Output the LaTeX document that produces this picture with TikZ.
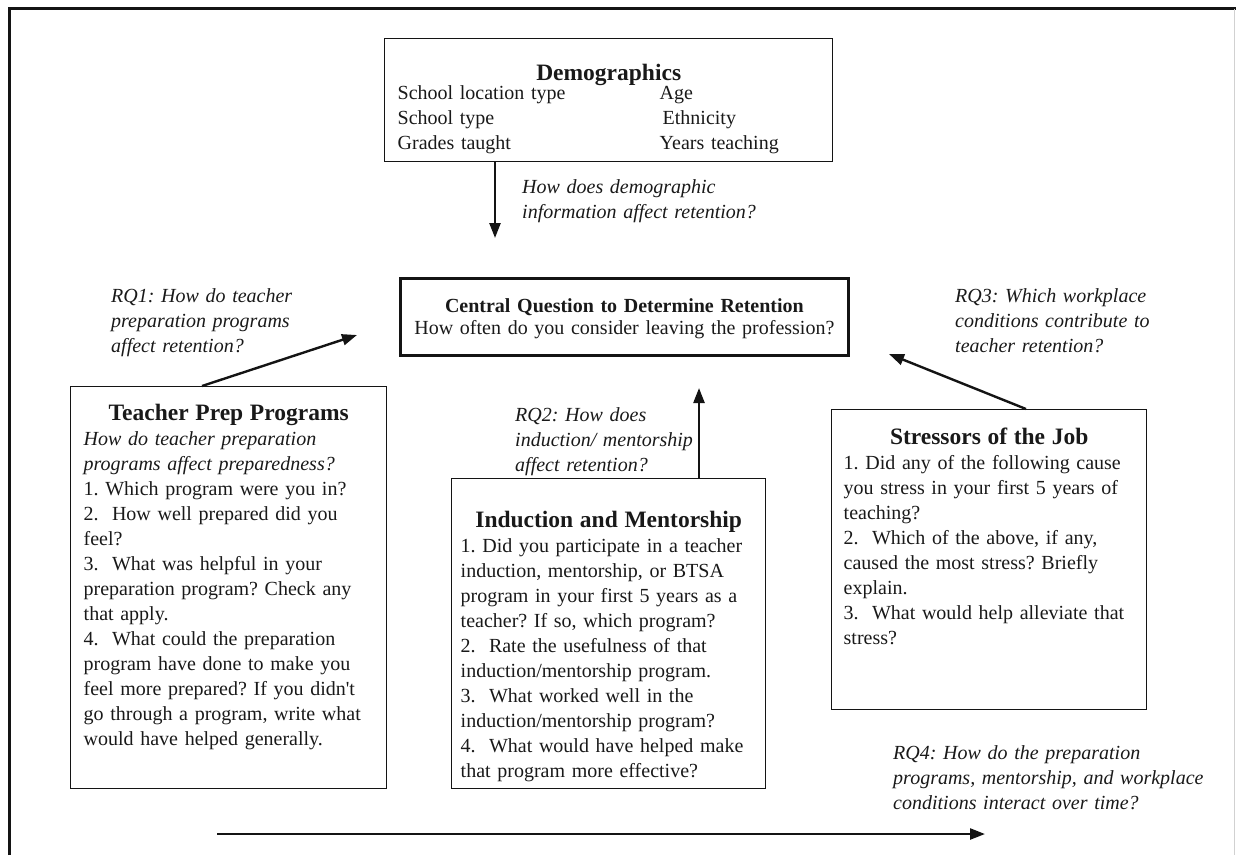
\documentclass[tikz,border=0pt]{standalone}
\usepackage{fontspec}
\setmainfont{Liberation Serif}
\usetikzlibrary{arrows.meta,calc}
\definecolor{LineClr}{rgb}{0.08,0.08,0.08}
\definecolor{TextClr}{rgb}{0.1,0.1,0.1}
\definecolor{EdgeClr}{rgb}{0.82,0.82,0.82}

\newcommand{\HeadFont}{\fontsize{23.5}{25}\bfseries\selectfont}
\newcommand{\BodyFont}{\fontsize{20}{25}\selectfont\frenchspacing}

\begin{document}
\begin{tikzpicture}[x=1pt,y=-1pt,
  qbox/.style={draw=LineClr,line width=1.4pt,anchor=north west,inner ysep=0pt,
    align=left,font=\BodyFont,text=TextClr},
  rqlabel/.style={anchor=base west,inner sep=0pt,align=left,text width=#1,
    font=\BodyFont\itshape,text=TextClr},
  rqlabel/.default=330pt,
  arr/.style={-{Triangle[length=15pt,width=11pt]},line width=2.4pt,draw=LineClr}]

\useasboundingbox (0,0) rectangle (1236,855);

% page frame
\draw[line width=2.8pt,draw=LineClr] (9.5,855) -- (9.5,8.5) -- (1236,8.5);
\draw[line width=1pt,draw=EdgeClr] (1234.5,8.5) -- (1234.5,855);

% boxes
\node[qbox,inner xsep=13pt,text width=422pt,text height=42pt,text depth=81pt] (demo) at (384,38) {%
  {\centering\HeadFont Demographics\par}\vspace{-6pt}
  \makebox[262pt][l]{School location type}Age\\
  \makebox[265pt][l]{School type}Ethnicity\\
  \makebox[262pt][l]{Grades taught}Years teaching};

\node[qbox,line width=2.8pt,inner xsep=10pt,text width=428pt,text height=34pt,text depth=43pt,
  align=center,font=\fontsize{20}{22}\selectfont\frenchspacing] (central) at (399,277) {%
  {\bfseries Central Question to Determine Retention\par}
  How often do you consider leaving the profession?};

\node[qbox,inner xsep=13pt,text width=290pt,text height=34pt,text depth=368pt] (prep) at (70,386) {%
  {\centering\HeadFont Teacher Prep Programs\par}
  \textit{How do teacher preparation}\\
  \textit{programs affect preparedness?}\\
  1. Which program were you in?\\
  2.\ \ How well prepared did you\\
  feel?\\
  3.\ \ What was helpful in your\\
  preparation program? Check any\\
  that apply.\\
  4.\ \ What could the preparation\\
  program have done to make you\\
  feel more prepared? If you didn\textquotesingle t\\
  go through a program, write what\\
  would have helped generally.};

\node[qbox,inner xsep=9pt,text width=296pt,text height=49pt,text depth=261pt] (mentor) at (451,478) {%
  {\centering\HeadFont Induction and Mentorship\par}
  1. Did you participate in a teacher\\
  induction, mentorship, or BTSA\\
  program in your first 5 years as a\\
  teacher? If so, which program?\\
  2.\ \ Rate the usefulness of that\\
  induction/mentorship program.\\
  3.\ \ What worked well in the\\
  induction/mentorship program?\\
  4.\ \ What would have helped make\\
  that program more effective?};

\node[qbox,inner xsep=12pt,text width=291pt,text height=35pt,text depth=265pt] (stress) at (831,409) {%
  {\centering\HeadFont Stressors of the Job\par}
  1. Did any of the following cause\\
  you stress in your first 5 years of\\
  teaching?\\
  2.\ \ Which of the above, if any,\\
  caused the most stress? Briefly\\
  explain.\\
  3.\ \ What would help alleviate that\\
  stress?};

% research questions
\node[rqlabel] (demoq) at (522,193) {How does demographic\\information affect retention?};
\node[rqlabel] (rqone) at (111,302) {RQ1: How do teacher\\preparation programs\\affect retention?};
\node[rqlabel] (rqtwo) at (515,421) {RQ2: How does\\induction/ mentorship\\affect retention?};
\node[rqlabel] (rqthree) at (955,302) {RQ3: Which workplace\\conditions contribute to\\teacher retention?};
\node[rqlabel] (rqfour) at (893,759) {RQ4: How do the preparation\\programs, mentorship, and workplace\\conditions interact over time?};

% arrows
\coordinate (demotip) at (495,238);
\coordinate (rqonetip) at (357,335);
\coordinate (rqtwotip) at (699,388);
\coordinate (rqthreetip) at (889,354);
\coordinate (timestart) at (217,834);
\coordinate (timetip) at (985,834);

\draw[arr] (demotip |- demo.south) -- (demotip);
\draw[arr] ([xshift=132pt]prep.north west) -- (rqonetip);
\draw[arr] (rqtwotip |- mentor.north) -- (rqtwotip);
\draw[arr] ([xshift=195pt]stress.north west) -- (rqthreetip);
\draw[arr] (timestart) -- (timetip);

\end{tikzpicture}
\end{document}
